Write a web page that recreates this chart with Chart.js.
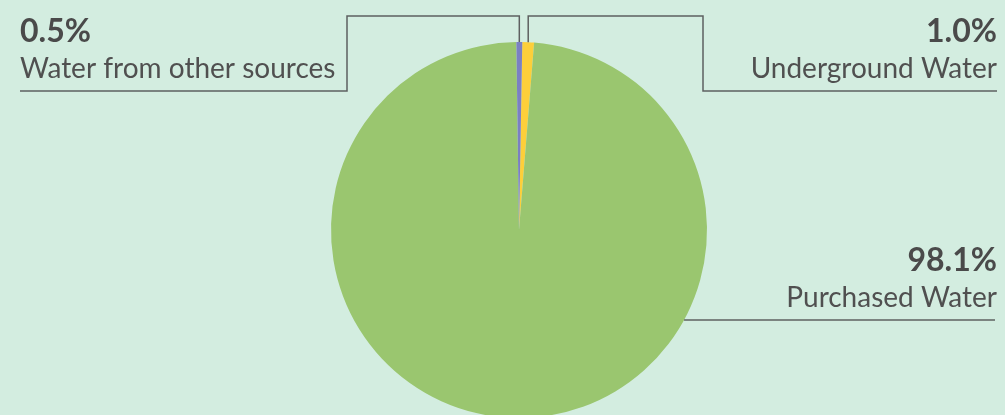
<!DOCTYPE html>
<html>
<head>
<meta charset="utf-8">
<script src="https://cdn.jsdelivr.net/npm/chart.js@4"></script>
<style>
  html, body { margin: 0; padding: 0; background: #d3ede0; }
  #wrap { width: 1005px; height: 415px; overflow: hidden; position: relative; }
  #chart-canvas { display: block; }
</style>
</head>
<body>
<div id="wrap">
  <canvas id="chart-canvas" width="1005" height="460"></canvas>
</div>
<script>
// slice order is clockwise from the top
const categories = ['Underground Water', 'Purchased Water', 'Water from other sources']
const values = [1.0, 98.1, 0.5]
const colors = ['#fdcf3a', '#9ac66f', '#7b80c2']

// where each label sits and how its leader line runs
const callouts = [
  { align: 'right', textX: 997, pctY: 42, nameY: 78, lineY: 91, elbowX: 703, topY: 16, lineEnd: 997 },
  { align: 'right', textX: 997, pctY: 271, nameY: 307, lineY: 320, lineEnd: 995 },
  { align: 'left', textX: 20, pctY: 42, nameY: 78, lineY: 91, elbowX: 347, topY: 16, lineEnd: 20 }
]

const calloutPlugin = {
  id: 'callouts',
  afterDraw(chart) {
    const ctx = chart.ctx
    const arcs = chart.getDatasetMeta(0).data
    ctx.save()
    ctx.strokeStyle = '#5e6060'
    ctx.lineWidth = 1.5
    callouts.forEach((c, i) => {
      const arc = arcs[i]
      const mid = (arc.startAngle + arc.endAngle) / 2
      const r = arc.outerRadius
      ctx.beginPath()
      if (c.topY !== undefined) {
        // small slices at the top: go straight up, across, down, then under the label
        const ax = arc.x + Math.cos(mid) * r
        const ay = arc.y + Math.sin(mid) * r
        ctx.moveTo(ax, ay)
        ctx.lineTo(ax, c.topY)
        ctx.lineTo(c.elbowX, c.topY)
        ctx.lineTo(c.elbowX, c.lineY)
        ctx.lineTo(c.lineEnd, c.lineY)
      } else {
        // big slice: line runs out from the pie edge at the label's height
        const dy = c.lineY - arc.y
        const ax = arc.x + Math.sqrt(r * r - dy * dy)
        ctx.moveTo(ax, c.lineY)
        ctx.lineTo(c.lineEnd, c.lineY)
      }
      ctx.stroke()

      ctx.textAlign = c.align
      ctx.textBaseline = 'alphabetic'
      ctx.fillStyle = '#4a4a4a'
      ctx.font = '700 32px Lato'
      ctx.fillText(values[i].toFixed(1) + '%', c.textX, c.pctY)
      ctx.fillStyle = '#505050'
      ctx.font = '400 28px Lato'
      ctx.fillText(categories[i], c.textX, c.nameY)
    })
    ctx.restore()
  }
}

new Chart(document.querySelector('#chart-canvas'), {
  type: 'pie',
  data: {
    labels: categories,
    datasets: [{
      data: values,
      backgroundColor: colors,
      borderWidth: 0
    }]
  },
  options: {
    responsive: false,
    animation: false,
    rotation: 1,
    layout: { padding: { top: 42, left: 331, right: 298, bottom: 42 } },
    plugins: {
      legend: { display: false },
      tooltip: { enabled: false }
    }
  },
  plugins: [calloutPlugin]
})
</script>
</body>
</html>
